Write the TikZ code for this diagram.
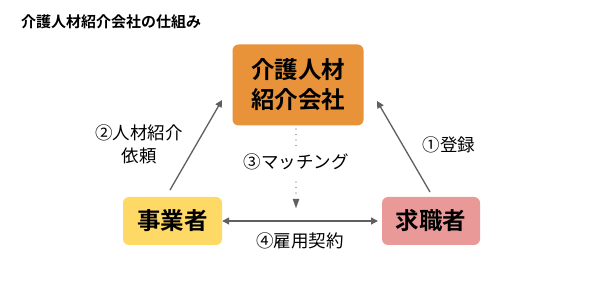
\documentclass[tikz,border=0pt]{standalone}
\usepackage{fontspec}
\setmainfont{Noto Sans CJK JP}
\newfontfamily\jpbold{Noto Sans CJK JP Bold}
\usetikzlibrary{arrows.meta}
\definecolor{cOrange}{RGB}{232,146,58}
\definecolor{cYellow}{RGB}{255,217,102}
\definecolor{cPink}{RGB}{234,153,153}
\definecolor{cArrow}{RGB}{95,95,95}
\tikzset{
  box/.style={rounded corners=6pt, inner sep=0pt, align=center, font=\jpbold\fontsize{23.5}{30}\selectfont},
  lbl/.style={font=\fontsize{17.5}{23}\selectfont, inner sep=0pt, align=center},
  conn/.style={draw=cArrow, line width=1.3pt, -{Triangle[length=7pt,width=7pt]}},
  dots/.style={draw=cArrow, line width=1.2pt, line cap=round, dash pattern=on 0pt off 5.5pt},
}
\begin{document}
\begin{tikzpicture}[x=1pt,y=-1pt]
\useasboundingbox (0,0) rectangle (600,307);
\fill[white] (0,0) rectangle (600,307);
\node[anchor=west, inner sep=0pt, font=\jpbold\fontsize{15}{17}\selectfont] (title) at (21,22) {介護人材紹介会社の仕組み};
\node[box, fill=cOrange, minimum width=131pt, minimum height=81pt] (agency) at (298,85) {介護人材\\紹介会社};
\node[box, fill=cYellow, minimum width=99pt, minimum height=48pt] (employer) at (172.5,221) {事業者};
\node[box, fill=cPink, minimum width=98pt, minimum height=48pt] (seeker) at (431,221) {求職者};
\coordinate (eTop) at (170,190);
\coordinate (aLeft) at (222,100);
\coordinate (sTop) at (430,192);
\coordinate (aRight) at (377,101);
\draw[conn] (eTop) -- (aLeft);
\draw[conn] (sTop) -- (aRight);
\draw[conn, {Triangle[length=7pt,width=7pt]}-{Triangle[length=7pt,width=7pt]}] (employer.east) -- (seeker.east -| 378,0);
\node[lbl] (match) at (296,162) {③マッチング};
\coordinate (dTop) at (296,129);
\coordinate (dMid) at (296,146);
\coordinate (dLow) at (296,182);
\coordinate (dArr) at (296,199);
\coordinate (dEnd) at (296,208);
\draw[dots] (dTop) -- (dMid);
\draw[dots] (dLow) -- (296,194);
\draw[draw=cArrow, line width=0.2pt, -{Triangle[length=9pt,width=6.5pt]}] (dArr) -- (dEnd);
\node[lbl] (req) at (139,144) {②人材紹介\\依頼};
\node[lbl] (reg) at (449,145) {①登録};
\node[lbl] (contract) at (300,241) {④雇用契約};
\end{tikzpicture}
\end{document}
